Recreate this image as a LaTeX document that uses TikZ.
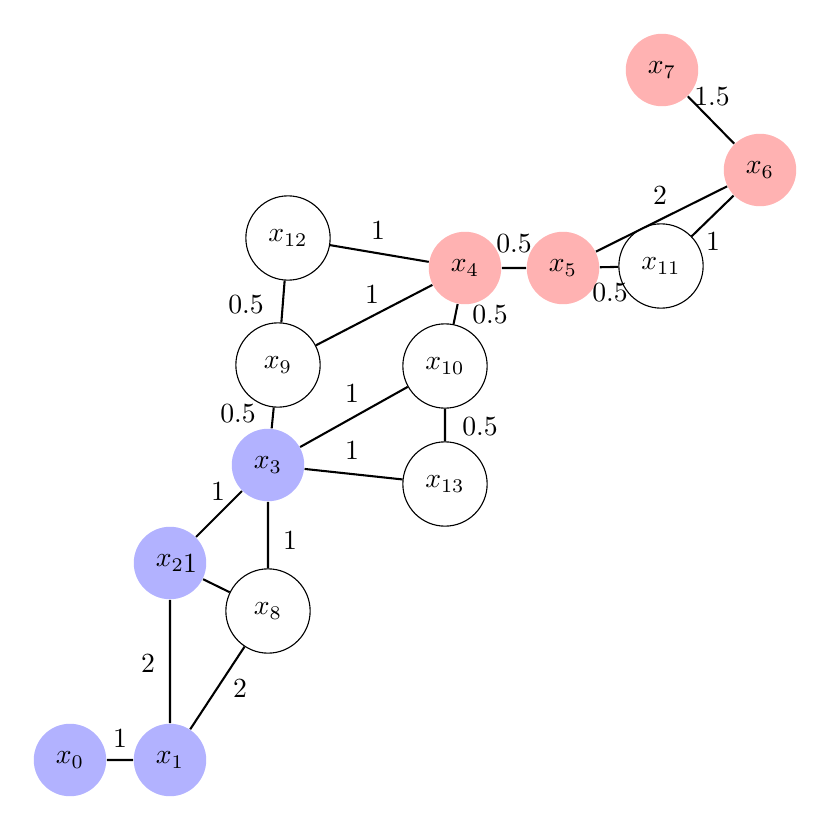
\documentclass[tikz,border=0pt]{standalone}
\begin{document}
\begin{tikzpicture}[x=0.0127cm,y=-0.0127cm,
  bnode/.style={circle,fill=blue!30,minimum size=0.92cm,inner sep=0pt},
  rnode/.style={circle,fill=red!30,minimum size=0.92cm,inner sep=0pt},
  wnode/.style={circle,draw,minimum size=1.07cm,inner sep=0pt},
  edge/.style={draw,line width=0.75pt},
  lbl/.style={inner sep=0pt}]
\useasboundingbox (0,0) rectangle (831,831);
\node[bnode] (x0) at (70,760) {$x_0$};
\node[bnode] (x1) at (170,760) {$x_1$};
\node[bnode] (x2) at (170,563) {$x_2$};
\node[bnode] (x3) at (268,465) {$x_3$};
\node[wnode] (x8) at (268,611) {$x_8$};
\node[wnode] (x9) at (278,365) {$x_9$};
\node[wnode] (x12) at (288,238) {$x_{12}$};
\node[rnode] (x4) at (465,268) {$x_4$};
\node[rnode] (x5) at (563,268) {$x_5$};
\node[wnode] (x10) at (445,366) {$x_{10}$};
\node[wnode] (x13) at (445,484) {$x_{13}$};
\node[wnode] (x11) at (661,266) {$x_{11}$};
\node[rnode] (x6) at (760,170) {$x_6$};
\node[rnode] (x7) at (662,70) {$x_7$};
\path[edge] (x0)--(x1) (x1)--(x2) (x1)--(x8) (x2)--(x3) (x2)--(x8) (x3)--(x8)
 (x3)--(x9) (x3)--(x10) (x3)--(x13) (x9)--(x12) (x9)--(x4) (x12)--(x4)
 (x4)--(x5) (x4)--(x10) (x10)--(x13) (x5)--(x11) (x5)--(x6) (x11)--(x6) (x7)--(x6);
\node[lbl] (l1) at (120,738) {1};
\node[lbl] (l2) at (148,663) {2};
\node[lbl] (l3) at (240,688) {2};
\node[lbl] (l4) at (218,491) {1};
\node[lbl] (l5) at (190,563) {1};
\node[lbl] (l6) at (290,540) {1};
\node[lbl] (l7) at (238,414) {0.5};
\node[lbl] (l8) at (352,393) {1};
\node[lbl] (l9) at (352,450) {1};
\node[lbl] (l10) at (246,305) {0.5};
\node[lbl] (l11) at (372,294) {1};
\node[lbl] (l12) at (378,230) {1};
\node[lbl] (l13) at (514,244) {0.5};
\node[lbl] (l14) at (490,315) {0.5};
\node[lbl] (l15) at (480,427) {0.5};
\node[lbl] (l16) at (610,293) {0.5};
\node[lbl] (l17) at (660,195) {2};
\node[lbl] (l18) at (713,241) {1};
\node[lbl] (l19) at (712,97) {1.5};
\end{tikzpicture}
\end{document}
